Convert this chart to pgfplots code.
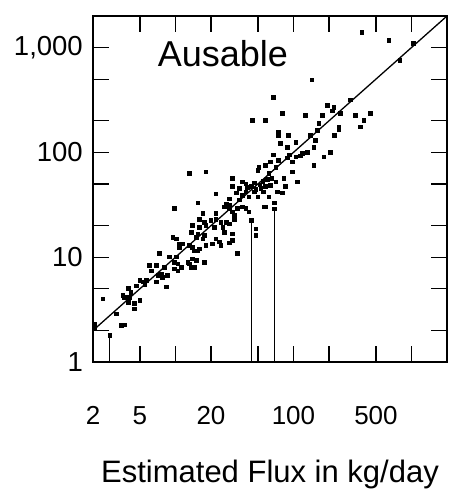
\documentclass[border=0pt]{standalone}
\usepackage{pgfplots}
\pgfplotsset{compat=1.18}
\usepackage{fontspec}
\setmainfont{Liberation Sans}
\begin{document}
\begin{tikzpicture}
\useasboundingbox (-93pt,-129pt) rectangle (364pt,362pt);
\begin{axis}[
  at={(0pt,0pt)}, anchor=south west,
  scale only axis, width=354pt, height=346pt,
  xmode=log, ymode=log,
  xmin=2, xmax=2000, ymin=1, ymax=2000,
  axis line style={line width=1.7pt},
  tick pos=both, tick align=inside,
  major tick length=16pt, minor tick length=0pt,
  every tick/.style={black, line width=1.2pt},
  xtick={2,5,10,20,50,100,200,500,1000},
  xticklabels={2,5,{},20,{},100,{},500,{}},
  ytick={1,2,5,10,20,50,100,200,500,1000},
  yticklabels={1,{},{},10,{},{},100,{},{},{1,000}},
  xticklabel style={font=\fontsize{26}{26}\selectfont, anchor=north, inner sep=0pt, yshift=-44pt},
  yticklabel style={font=\fontsize{27.5}{27.5}\selectfont, anchor=east, inner sep=0pt, xshift=-10pt},
  clip mode=individual,
]
\addplot[black, line width=1.3pt] coordinates {(2,2) (2000,2000)};
\addplot[only marks, mark=square*, mark size=1.8pt, mark options={black, line width=0pt}] coordinates {
(382,1400) (646,1170) (1040,1090) (800,755) (144,490) (68,335) (305,316) (194,281) (220,269) (215,248)
(251,236) (81,234) (127,226) (176,226) (336,226) (449,234) (397,202) (45,202) (58,202) (165,188)
(243,175) (370,175) (243,164) (160,162) (75,155) (75,144) (91,144) (140,144) (222,144) (154,130)
(105,125) (78,121) (89,112) (149,112) (131,100) (119,97) (206,100) (181,90) (92,94) (115,92)
(105,90) (68,94) (89,88) (75,84) (64,81) (98,81) (149,75) (58,75) (51,72) (50,67)
(71,72) (98,65) (13.2,63) (18.2,65) (62,63) (66,56) (83,56) (30.6,56) (71,52) (108,52)
(37,52) (39.6,50) (46.6,51) (30.6,47) (64,48.5) (58,47) (86,47) (53,45) (39.6,42) (46.6,42)
(22.1,40) (73,42) (81,41) (37,39) (42,37.5) (50,37.5) (62,37.5) (28.6,36)
(35,45) (44,47) (52,49) (56,42) (33,41) (48,44) (60,55) (41,46) (55,53) (35,35)
(69,33) (15.5,33) (27,32) (28.6,31) (26,30) (28.6,29) (30.6,27) (31.6,25) (31.6,23) (33.7,29)
(9.8,29) (37,30) (39.6,29) (42,27) (57,30) (58,30) (17.1,26) (22.1,26) (16,23) (17.6,21.5)
(20,22.3) (22.1,23) (24.4,21.5) (27,21.5) (14,20) (16,19.3) (18.2,20) (21.4,19.3) (25.2,19.3) (28.6,20.7)
(48,18.6) (48,16) (13.6,17.3) (15.5,16.6) (17.6,16) (15,15.5) (17.1,14.9) (26,17.3) (30.6,16.6) (30.6,14.4)
(28.6,13.6) (22.1,14.9) (23.6,13.9) (20.7,13.4) (24.4,12.9) (18.2,12.9) (33.7,10.8) (9.5,15.5) (10.2,14.9) (10.8,13.4)
(11.6,13.4) (10.8,12.4) (13.2,12.9) (14,12.4) (16,12) (14.5,11.5) (15.5,11.5) (7.35,10.8) (8.9,10) (10.2,10)
(9.8,8.9) (10.5,8.6) (11.2,8) (9.8,7.7) (10.5,7.4) (12.8,8.9) (14,9.6) (13.2,8.6) (15,9.3) (13.6,8)
(14.5,8) (17.6,8.9) (6.05,8.3) (6.25,7.4) (6.9,8.3) (7.1,6.7) (7.6,6.9) (8.1,8) (8.6,6.7) (7.8,6.4)
(6.9,5.8) (8.4,5.2) (5,6) (5.3,5.8) (5.5,5.5) (5.7,6) (4.7,5.3) (4.2,4.6) (4,5) (3.6,4.3)
(3.7,4.1) (4.1,4.1) (5,3.85) (4.5,3.6) (4.5,3.2) (4,3.7) (3.17,2.87) (2.44,4) (3.5,2.22) (3.7,2.25)
(2.08,2.3) (2.08,2.14)
};
\addplot[ycomb, black, line width=1.1pt, mark=square*, mark size=1.8pt, mark options={black, line width=0pt}] coordinates {
(2.78,1.78) (44.2,22.5) (69.1,28.8)
};
\node[font=\fontsize{36}{36}\selectfont, anchor=base] at (rel axis cs:0.367,0.853) {Ausable};
\node[font=\fontsize{31}{31}\selectfont, anchor=base, yshift=-120pt] at (rel axis cs:0.5,0) {Estimated Flux in kg/day};
\end{axis}
\end{tikzpicture}
\end{document}
